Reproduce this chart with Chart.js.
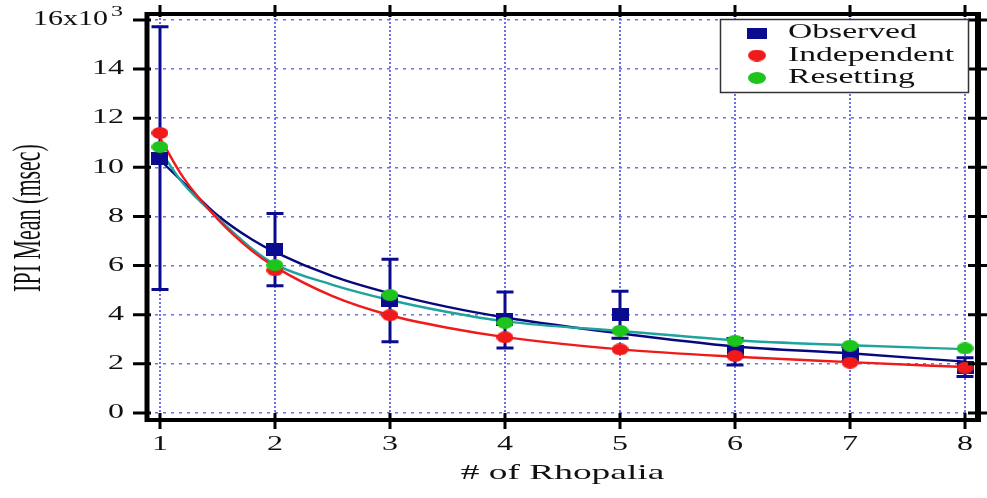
<!DOCTYPE html>
<html lang="en">
<head>
<meta charset="UTF-8">
<title>IPI Mean vs # of Rhopalia</title>
<script src="https://cdn.jsdelivr.net/npm/chart.js"></script>
<style>
  body { margin: 0; background: #fff; }
  #wrap { width: 987px; height: 498px; }
</style>
</head>
<body>
<div id="wrap"><canvas id="chart" width="987" height="498"></canvas></div>
<script>
// values (IPI mean in units of 10^3 msec)
const rhopalia = [1, 2, 3, 4, 5, 6, 7, 8];
const observed = [10.38, 6.65, 4.58, 3.79, 4.0, 2.49, 2.4, 1.87];
const observedErr = [5.35, 1.47, 1.68, 1.14, 0.96, 0.54, 0.3, 0.38];
const independent = [11.4, 5.81, 3.98, 3.08, 2.59, 2.32, 2.05, 1.84];
const resetting = [10.83, 6.02, 4.8, 3.67, 3.35, 2.94, 2.74, 2.63];

// fitted curves
const fitX = [1, 1.2, 1.5, 1.8, 2, 2.5, 3, 3.5, 4, 5, 6, 7, 8];
const observedFit = [10.3, 9.4, 8.05, 7.06, 6.55, 5.57, 4.87, 4.32, 3.89, 3.24, 2.71, 2.43, 2.09];
const independentFit = [11.2, 9.6, 7.9, 6.6, 5.95, 4.76, 3.98, 3.47, 3.09, 2.59, 2.29, 2.07, 1.87];
const resettingFit = [10.7, 9.35, 7.95, 6.69, 6.05, 5.22, 4.6, 4.11, 3.73, 3.34, 2.96, 2.76, 2.6];

const seriesNames = ['Observed', 'Independent', 'Resetting'];
const xTickLabels = ['1', '2', '3', '4', '5', '6', '7', '8'];
const yTickLabels = ['0', '2', '4', '6', '8', '10', '12', '14', '16x10\u00b3'];
const xTitle = '# of Rhopalia';
const yTitle = 'IPI Mean (msec)';

const C = {
  navy: '#0b0b8f',
  line: '#08087e',
  red: '#f01a1a',
  green: '#1cc41c',
  teal: '#1ea39e',
  grid: 'rgba(96, 96, 222, 0.9)',
  ink: '#111'
};
const SERIF = '"Liberation Serif", "Times New Roman", serif';

function marker(w, h, color, round) {
  const c = document.createElement('canvas');
  c.width = w; c.height = h;
  const g = c.getContext('2d');
  g.fillStyle = color;
  if (round) {
    g.beginPath();
    g.ellipse(w / 2, h / 2, w / 2, h / 2, 0, 0, Math.PI * 2);
    g.fill();
  } else {
    g.fillRect(0, 0, w, h);
  }
  return c;
}
const markers = [marker(17, 13, C.navy, false), marker(17, 12, C.red, true), marker(17, 12, C.green, true)];
const legendMarkers = [marker(20, 11, C.navy, false), marker(18, 12, C.red, true), marker(18, 12, C.green, true)];

// the original figure is stretched sideways, so text is drawn wide
function wideText(ctx, text, x, y, size, align, sx) {
  ctx.save();
  ctx.font = size + 'px ' + SERIF;
  ctx.translate(x, y);
  ctx.scale(sx, 1);
  ctx.textAlign = align;
  ctx.textBaseline = 'middle';
  ctx.fillText(text, 0, 0);
  ctx.restore();
}

const errorBars = {
  id: 'errorBars',
  beforeDatasetsDraw(chart) {
    const { ctx, scales: { x, y } } = chart;
    ctx.save();
    ctx.strokeStyle = C.navy;
    ctx.lineWidth = 3;
    rhopalia.forEach((r, i) => {
      const px = x.getPixelForValue(r);
      const top = y.getPixelForValue(observed[i] + observedErr[i]);
      const bot = y.getPixelForValue(observed[i] - observedErr[i]);
      ctx.beginPath();
      ctx.moveTo(px, top); ctx.lineTo(px, bot);
      ctx.moveTo(px - 8.5, top); ctx.lineTo(px + 8.5, top);
      ctx.moveTo(px - 8.5, bot); ctx.lineTo(px + 8.5, bot);
      ctx.stroke();
    });
    ctx.restore();
  }
};

const frame = {
  id: 'frame',
  afterDatasetsDraw(chart) {
    const { ctx, chartArea: a, scales: { x, y } } = chart;
    ctx.save();
    ctx.strokeStyle = '#000';
    ctx.fillStyle = C.ink;

    // spines
    ctx.lineWidth = 5;
    ctx.beginPath(); ctx.moveTo(a.left, a.top - 2); ctx.lineTo(a.left, a.bottom + 2); ctx.stroke();
    ctx.lineWidth = 6;
    ctx.beginPath(); ctx.moveTo(a.right, a.top - 2); ctx.lineTo(a.right, a.bottom + 2); ctx.stroke();
    ctx.lineWidth = 4;
    ctx.beginPath(); ctx.moveTo(a.left, a.bottom); ctx.lineTo(a.right, a.bottom); ctx.stroke();
    ctx.beginPath(); ctx.moveTo(a.left, a.top); ctx.lineTo(a.right, a.top); ctx.stroke();

    // tick marks on all four sides
    ctx.lineWidth = 3;
    y.ticks.forEach(t => {
      const py = y.getPixelForValue(t.value);
      ctx.beginPath();
      ctx.moveTo(a.left - 14, py); ctx.lineTo(a.left + 4, py);
      ctx.moveTo(a.right - 10, py); ctx.lineTo(a.right + 9, py);
      ctx.stroke();
    });
    x.ticks.forEach(t => {
      const px = x.getPixelForValue(t.value);
      ctx.beginPath();
      ctx.moveTo(px, a.bottom - 7); ctx.lineTo(px, a.bottom + 9);
      ctx.moveTo(px, a.top - 9); ctx.lineTo(px, a.top + 3);
      ctx.stroke();
    });

    // tick labels
    y.ticks.forEach((t, i) => {
      const py = y.getPixelForValue(t.value);
      const label = yTickLabels[i];
      if (label.endsWith('\u00b3')) {
        wideText(ctx, '3', a.left - 24, py - 8, 15, 'right', 1.6);
        wideText(ctx, label.slice(0, -1), a.left - 39, py, 20, 'right', 1.5);
      } else {
        wideText(ctx, label, a.left - 23, py, 20, 'right', 1.6);
      }
    });
    x.ticks.forEach((t, i) => {
      wideText(ctx, xTickLabels[i], x.getPixelForValue(t.value), a.bottom + 25, 20, 'center', 1.6);
    });

    // axis titles
    wideText(ctx, xTitle, (a.left + a.right) / 2, a.bottom + 53, 22, 'center', 1.7);
    ctx.save();
    ctx.font = '22px ' + SERIF;
    ctx.translate(30, (a.top + a.bottom) / 2 + 1);
    ctx.rotate(-Math.PI / 2);
    ctx.scale(1, 1.8);
    ctx.textAlign = 'center';
    ctx.textBaseline = 'middle';
    ctx.fillText(yTitle, 0, 0);
    ctx.restore();

    // legend box
    const lx = 720, ly = 19, lw = 248, lh = 73;
    ctx.fillStyle = '#fff';
    ctx.fillRect(lx, ly, lw, lh);
    ctx.lineWidth = 1.5;
    ctx.strokeStyle = '#333';
    ctx.strokeRect(lx + 0.5, ly + 0.5, lw, lh);
    ctx.fillStyle = C.ink;
    seriesNames.forEach((name, i) => {
      const ry = ly + 14 + i * 22.5;
      const m = legendMarkers[i];
      ctx.drawImage(m, 757 - m.width / 2, ry - m.height / 2);
      wideText(ctx, name, 788, ry, 20, 'left', 1.68);
    });
    ctx.restore();
  }
};

const pts = arr => rhopalia.map((r, i) => ({ x: r, y: arr[i] }));
const fit = arr => fitX.map((v, i) => ({ x: v, y: arr[i] }));

new Chart(document.getElementById('chart'), {
  type: 'scatter',
  data: {
    datasets: [
      { label: 'Observed fit', data: fit(observedFit), showLine: true, borderColor: C.line, borderWidth: 2.4,
        pointRadius: 0, cubicInterpolationMode: 'monotone', order: 5 },
      { label: 'Resetting fit', data: fit(resettingFit), showLine: true, borderColor: C.teal, borderWidth: 2.4,
        pointRadius: 0, cubicInterpolationMode: 'monotone', order: 4 },
      { label: 'Independent fit', data: fit(independentFit), showLine: true, borderColor: C.red, borderWidth: 2.4,
        pointRadius: 0, cubicInterpolationMode: 'monotone', order: 3 },
      { label: seriesNames[0], data: pts(observed), pointStyle: markers[0], pointRadius: 8, order: 2 },
      { label: seriesNames[1], data: pts(independent), pointStyle: markers[1], pointRadius: 8, order: 1 },
      { label: seriesNames[2], data: pts(resetting), pointStyle: markers[2], pointRadius: 8, order: 0 }
    ]
  },
  options: {
    responsive: false,
    animation: false,
    layout: { padding: { top: 14, right: 9, left: 0, bottom: 0 } },
    plugins: { legend: { display: false }, tooltip: { enabled: false } },
    scales: {
      x: {
        type: 'linear',
        min: 0.887,
        max: 8.113,
        afterFit: s => { s.height = 78; },
        ticks: { display: false, stepSize: 1, includeBounds: false },
        grid: { color: C.grid, lineWidth: 2, drawTicks: false },
        border: { display: false, dash: [2, 2] }
      },
      y: {
        min: -0.285,
        max: 16.244,
        afterFit: s => { s.width = 147; },
        ticks: { display: false, stepSize: 2, includeBounds: false },
        grid: { color: C.grid, lineWidth: 1.5, drawTicks: false },
        border: { display: false, dash: [3, 5] }
      }
    }
  },
  plugins: [errorBars, frame]
});
</script>
</body>
</html>
